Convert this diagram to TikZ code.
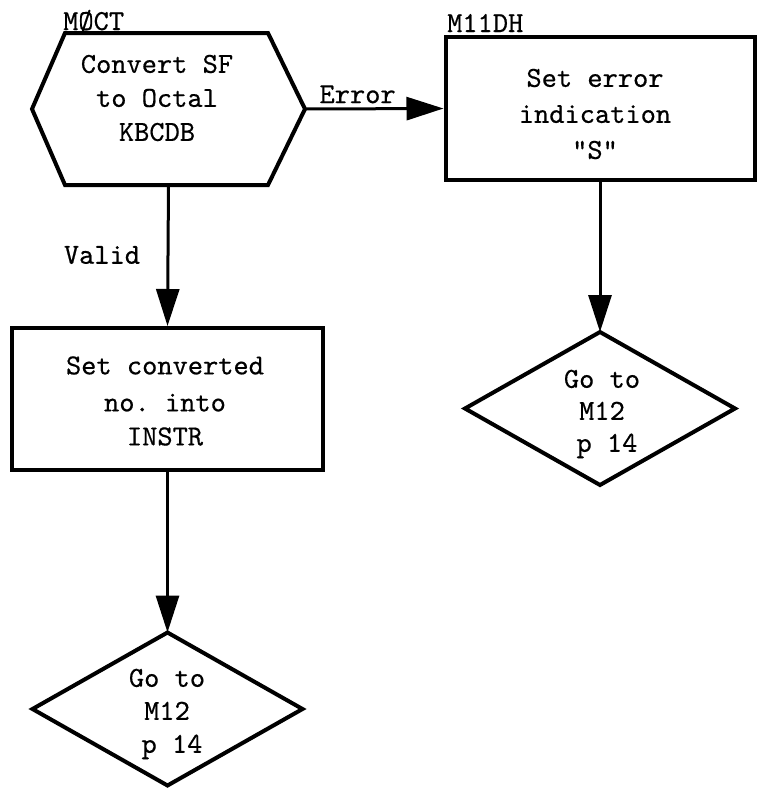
\documentclass[tikz,border=0pt]{standalone}
\usepackage{fontspec}
\setmonofont{lmmono10-regular.otf}[FakeBold=0.5]
\usetikzlibrary{arrows.meta,calc}
\tikzset{
  outline/.style={line width=4pt, line join=miter},
  conn/.style={line width=3pt, -{Triangle[length=37pt,width=23pt]}},
  boxshape/.style={draw, outline, rectangle, inner sep=0pt},
  ghost/.style={rectangle, inner sep=0pt, outer sep=0pt},
  txt/.style={font=\fontsize{29}{34}\selectfont\ttfamily, align=center, inner sep=0pt},
}
\begin{document}
\begin{tikzpicture}[x=1pt,y=-1pt]
  \useasboundingbox (0,0) rectangle (758,788);

  % conversion step (hexagon)
  \node[ghost, minimum width=273pt, minimum height=152pt] (convert) at (168.5,109) {};
  \draw[outline] ($(convert.north west)+(33,0)$) -- ($(convert.north east)+(-37,0)$)
    -- (convert.east) -- ($(convert.south east)+(-37,0)$)
    -- ($(convert.south west)+(33,0)$) -- (convert.west) -- cycle;
  \node[txt] (convert-t) at (157,98) {Convert SF\\to Octal\\KBCDB};
  \node[txt, anchor=base west] (moct) at (63,30) {MØCT};

  % error branch
  \node[boxshape, minimum width=309pt, minimum height=143pt] (errbox) at (600,108.5) {};
  \node[txt] (errbox-t) at (595,114) {Set error\\[2pt]indication\\[2pt]"S"};
  \node[txt, anchor=base west] (m11dh) at (447,32) {M11DH};

  \node[ghost, minimum width=270pt, minimum height=153pt] (goright) at (600,408.5) {};
  \draw[outline] (goright.north) -- (goright.east) -- (goright.south) -- (goright.west) -- cycle;
  \node[txt] (goright-t) at (602,414) {Go to\\[-2pt]M12\\[-2pt]\hspace{10pt}p 14};

  % valid branch
  \node[boxshape, minimum width=311pt, minimum height=142pt] (convbox) at (167.5,399) {};
  \node[txt] (convbox-t) at (165,401) {Set converted\\[3pt]no. into\\INSTR};

  \node[ghost, minimum width=270pt, minimum height=153pt] (goleft) at (167.5,709) {};
  \draw[outline] (goleft.north) -- (goleft.east) -- (goleft.south) -- (goleft.west) -- cycle;
  \node[txt] (goleft-t) at (167,714) {Go to\\[-1pt]M12\\[-1pt]\hspace{10pt}p 14};

  % connectors
  \draw[conn] (convert.east) -- (errbox.west) node[txt, pos=0.38, above=4pt] (err-l) {Error};
  \draw[conn] (convert.south) -- (convbox.north);
  \node[txt] (valid-l) at (102,255) {Valid};
  \draw[conn] (errbox.south) -- (goright.north);
  \draw[conn] (convbox.south) -- (goleft.north);
\end{tikzpicture}
\end{document}
